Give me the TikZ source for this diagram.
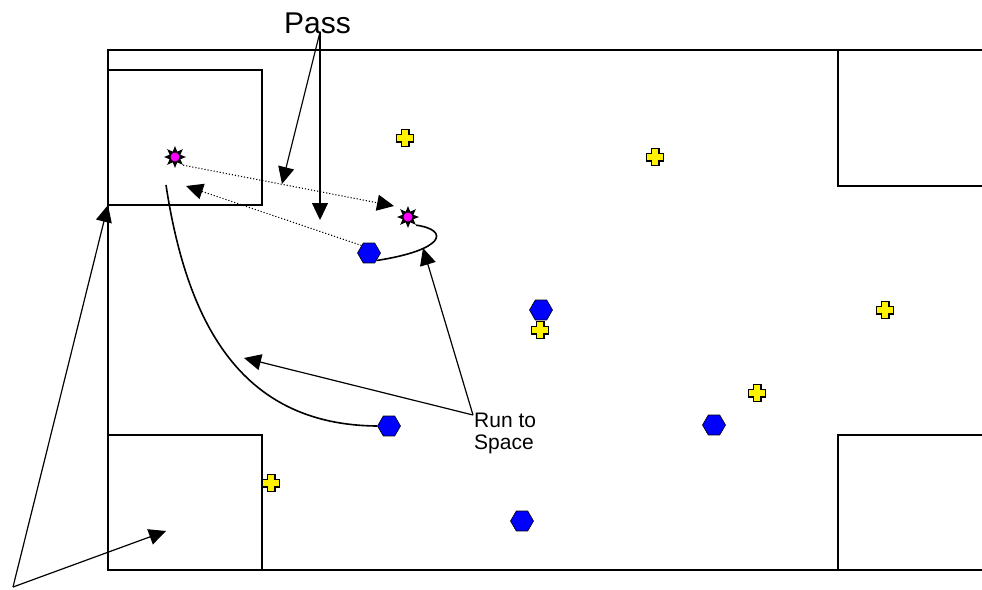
\documentclass[tikz,border=0pt]{standalone}
\usepackage{fontspec}
\setmainfont{Liberation Sans}
\usetikzlibrary{arrows.meta,shapes.geometric}
\begin{document}
\begin{tikzpicture}[x=1pt,y=-1pt,
  fieldline/.style={line width=1.6pt,line join=miter},
  conn/.style={line width=1.2pt,-{Triangle[length=17pt,width=16pt]}},
  dotconn/.style={line width=1.1pt,dotted,-{Triangle[length=17pt,width=16pt]}},
  runline/.style={line width=1.6pt},
  hexa/.style={regular polygon,regular polygon sides=6,minimum size=23pt,inner sep=0pt,fill=blue,draw=black,line width=0.6pt},
  starm/.style={star,star points=8,star point ratio=1.9,minimum size=22pt,inner sep=0pt,fill=black},
  dotm/.style={circle,fill={rgb,255:red,255;green,0;blue,255},minimum size=9pt,inner sep=0pt},
  plusmark/.pic={\draw[fill=yellow,line width=1.4pt,line join=miter]
     (-3.8,-8.5)--(3.8,-8.5)--(3.8,-3.8)--(8.5,-3.8)--(8.5,3.8)--(3.8,3.8)--(3.8,8.5)--(-3.8,8.5)--(-3.8,3.8)--(-8.5,3.8)--(-8.5,-3.8)--(-3.8,-3.8)--cycle;},
  lbl/.style={inner sep=0pt,align=left}]
\useasboundingbox (0,0) rectangle (982,589);
% field
\draw[fieldline] (982,50) -- (108,50) -- (108,570) -- (982,570);
\draw[fieldline] (108,70) rectangle (262,205);
\draw[fieldline] (108,435) rectangle (262,570);
\draw[fieldline] (982,186) -- (838,186) -- (838,50);
\draw[fieldline] (982,435) -- (838,435) -- (838,570);
% crosses
\pic at (405,138) {plusmark};
\pic at (655,157) {plusmark};
\pic at (540,330) {plusmark};
\pic at (885,310) {plusmark};
\pic at (757,393) {plusmark};
\pic at (271,483) {plusmark};
% hexagons
\node[hexa] (h1) at (369,253) {};
\node[hexa] (h2) at (541,310) {};
\node[hexa] (h3) at (389,426) {};
\node[hexa] (h4) at (714,425) {};
\node[hexa] (h5) at (522,521) {};
% stars
\node[starm] (s1) at (175,157) {};
\node[dotm] at (s1) {};
\node[starm] (s2) at (408,217) {};
\node[dotm] at (s2) {};
% runs
\coordinate (r1s) at (166,185);
\draw[runline] (r1s) .. controls (188,330) and (245,425) .. (h3.west);
\draw[runline] (s2.south east) .. controls (450,230) and (445,250) .. (h1.south east);
% passes
\coordinate (p1e) at (394,206);
\coordinate (p2e) at (186,186);
\draw[dotconn] (s1.south east) -- (p1e);
\draw[dotconn] (h1.north west) -- (p2e);
% labels
\node[lbl,font=\fontsize{30}{36}\selectfont,anchor=base] (pass) at (317.5,33) {Pass};
\coordinate (pa) at (320,32);
\coordinate (pt1) at (282,184);
\coordinate (pt2) at (320,220);
\draw[conn] (pa) -- (pt1);
\draw[conn] (pa) -- (pt2);
\node[lbl,font=\fontsize{21}{22.5}\selectfont,anchor=base west] (run) at (474,449.5) {Run to\\Space};
\coordinate (ra) at (473,415);
\coordinate (rt1) at (244,358);
\coordinate (rt2) at (423,248);
\draw[conn] (ra) -- (rt1);
\draw[conn] (ra) -- (rt2);
\coordinate (ba) at (13,587);
\coordinate (bt1) at (108,205);
\coordinate (bt2) at (166,531);
\draw[conn] (ba) -- (bt1);
\draw[conn] (ba) -- (bt2);
\end{tikzpicture}
\end{document}
